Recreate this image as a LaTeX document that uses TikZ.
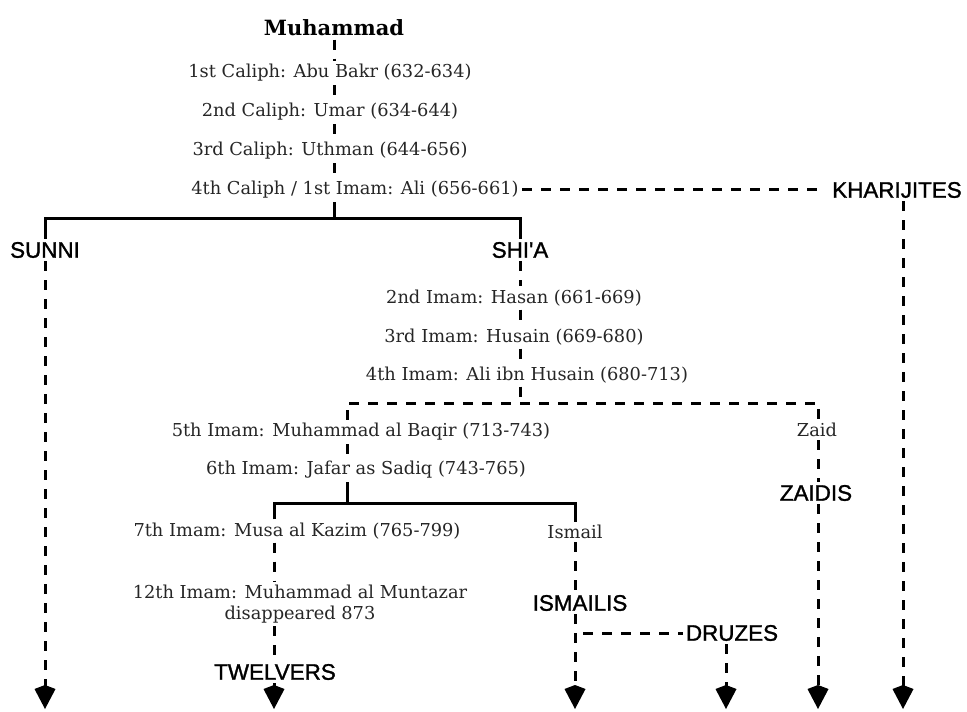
\documentclass[tikz,border=0pt]{standalone}
\usepackage{fontspec}
\setmainfont{DejaVu Serif}
\newfontfamily\sectfont[FakeBold=1.3]{Liberation Sans}
\usepackage{tikz}
\usetikzlibrary{arrows.meta}

\begin{document}
\begin{tikzpicture}[x=0.5pt, y=-0.5pt,
    person/.style={font=\fontsize{8.9pt}{10.4pt}\selectfont, text=black!85, inner sep=1.5pt, align=center},
    founder/.style={font=\fontsize{10.5pt}{12pt}\selectfont\bfseries, inner sep=1.5pt},
    sect/.style={font=\sectfont\fontsize{11.2pt}{13pt}\selectfont, inner sep=1.5pt},
    trunk/.style={line width=1.5pt},
    link/.style={line width=1.5pt, dash pattern=on 5pt off 4.5pt},
    >={Kite[length=12pt, width=10.5pt, inset=2pt]}]

  \useasboundingbox[fill=white] (0,0) rectangle (967,711);
  \coordinate (end) at (0,709);

  % caliphs
  \node[founder] (M) at (334,28) {Muhammad};
  \node[person] (C1) at (330,73) {1st Caliph: Abu Bakr (632-634)};
  \node[person] (C2) at (330,112) {2nd Caliph: Umar (634-644)};
  \node[person] (C3) at (330,151) {3rd Caliph: Uthman (644-656)};
  \node[person] (C4) at (355,190) {4th Caliph / 1st Imam: Ali (656-661)};

  \draw[link] (M) -- (M |- C1.north);
  \draw[link] (M |- C1.south) -- (M |- C2.north);
  \draw[link] (M |- C2.south) -- (M |- C3.north);
  \draw[link] (M |- C3.south) -- (M |- C4.north);

  % first split
  \node[sect] (KH) at (897,190) {KHARIJITES};
  \node[sect] (SU) at (45,250) {SUNNI};
  \node[sect] (SH) at (520,250) {SHI'A};
  \coordinate (s1) at (334,218);

  \draw[link, shorten >=6pt] (C4) -- (KH);
  \draw[trunk] (M |- C4.south) -- (s1);
  \draw[trunk] (SU) -- (SU |- s1) -- (SH |- s1) -- (SH);
  \draw[link,->] (SU) -- (SU |- end);
  \draw[link,->] ([xshift=3pt]KH.south) -- ([xshift=3pt]KH.south |- end);

  % imams
  \node[person] (I2) at (514,298) {2nd Imam: Hasan (661-669)};
  \node[person] (I3) at (514,337) {3rd Imam: Husain (669-680)};
  \node[person] (I4) at (527,375) {4th Imam: Ali ibn Husain (680-713)};

  \draw[link] (SH) -- (SH |- I2.north);
  \draw[link] (SH |- I2.south) -- (SH |- I3.north);
  \draw[link] (SH |- I3.south) -- (SH |- I4.north);

  % second split
  \coordinate (s2) at (520,403);
  \coordinate (b5) at (347,403);
  \coordinate (bz) at (818,403);
  \node[person] (I5) at (361,432) {5th Imam: Muhammad al Baqir (713-743)};
  \node[person] (I6) at (366,470) {6th Imam: Jafar as Sadiq (743-765)};
  \node[person] (ZA) at (817,430) {Zaid};
  \node[sect] (ZS) at (816,493) {ZAIDIS};

  \draw[link] (s2 |- I4.south) -- (s2);
  \draw[link] (b5 |- I5.north) -- (b5) -- (bz) -- (bz |- ZA.north);
  \draw[link] (b5 |- I5.south) -- (b5 |- I6.north);
  \draw[link] (bz |- ZA.south) -- (bz |- ZS.north);
  \draw[link,->] (bz |- ZS.south) -- (bz |- end);

  % third split
  \coordinate (s3) at (347,503);
  \coordinate (b7) at (274,503);
  \coordinate (bi) at (575,503);
  \node[person] (I7) at (297,531) {7th Imam: Musa al Kazim (765-799)};
  \node[person] (I12) at (300,604) {12th Imam: Muhammad al Muntazar\\disappeared 873};
  \node[sect] (TW) at (275,672) {TWELVERS};
  \node[person] (IS) at (575,532) {Ismail};
  \node[sect] (ISM) at (580,603) {ISMAILIS};
  \node[sect] (DR) at (732,633) {DRUZES};

  \draw[trunk] (s3 |- I6.south) -- (s3);
  \draw[trunk] (b7 |- I7.north) -- (b7) -- (bi) -- (bi |- IS.north);
  \draw[link] (b7 |- I7.south) -- (b7 |- I12.north);
  \draw[link] (b7 |- I12.south) -- (b7 |- TW.north);
  \draw[link,->] (b7 |- TW.south) -- (b7 |- end);
  \draw[link] (bi |- IS.south) -- (bi |- ISM.north);
  \draw[link,->] (bi |- ISM.south) -- (bi |- end);
  \draw[link] ([xshift=4pt]bi |- DR) -- (DR);
  \draw[link,->] ([xshift=-3pt]DR.south) -- ([xshift=-3pt]DR.south |- end);

\end{tikzpicture}
\end{document}
